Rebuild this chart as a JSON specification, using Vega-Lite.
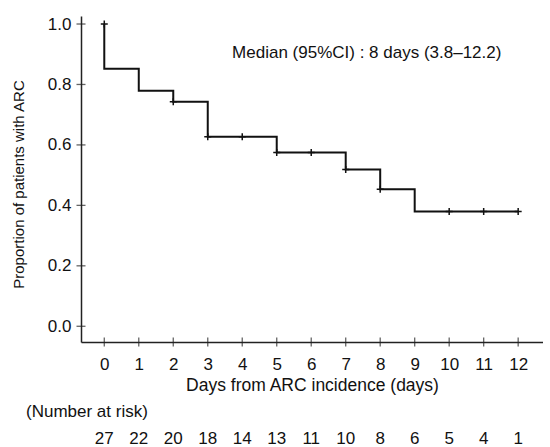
{
  "$schema": "https://vega.github.io/schema/vega-lite/v6.json",
  "autosize": {"type": "pad"},
  "padding": {"left": 11, "top": 15, "right": 0, "bottom": 0},
  "spacing": 9,
  "datasets": {
    "km": [
      {"day": 0, "surv": 1.0},
      {"day": 0, "surv": 0.852},
      {"day": 1, "surv": 0.779},
      {"day": 2, "surv": 0.743},
      {"day": 3, "surv": 0.627},
      {"day": 5, "surv": 0.575},
      {"day": 7, "surv": 0.519},
      {"day": 8, "surv": 0.453},
      {"day": 9, "surv": 0.38},
      {"day": 12, "surv": 0.38}
    ],
    "censor": [
      {"day": 0, "surv": 1.0},
      {"day": 2, "surv": 0.743},
      {"day": 3, "surv": 0.627},
      {"day": 4, "surv": 0.627},
      {"day": 5, "surv": 0.575},
      {"day": 6, "surv": 0.575},
      {"day": 7, "surv": 0.519},
      {"day": 8, "surv": 0.453},
      {"day": 10, "surv": 0.38},
      {"day": 11, "surv": 0.38},
      {"day": 12, "surv": 0.38}
    ],
    "xticks": [
      {"t": 0}, {"t": 1}, {"t": 2}, {"t": 3}, {"t": 4}, {"t": 5}, {"t": 6},
      {"t": 7}, {"t": 8}, {"t": 9}, {"t": 10}, {"t": 11}, {"t": 12}
    ],
    "yticks": [
      {"t": 0}, {"t": 0.2}, {"t": 0.4}, {"t": 0.6}, {"t": 0.8}, {"t": 1.0}
    ],
    "risk": [
      {"day": 0, "n": 27}, {"day": 1, "n": 22}, {"day": 2, "n": 20},
      {"day": 3, "n": 18}, {"day": 4, "n": 14}, {"day": 5, "n": 13},
      {"day": 6, "n": 11}, {"day": 7, "n": 10}, {"day": 8, "n": 8},
      {"day": 9, "n": 6}, {"day": 10, "n": 5}, {"day": 11, "n": 4},
      {"day": 12, "n": 1}
    ]
  },
  "vconcat": [
    {
      "width": 462,
      "height": 326,
      "layer": [
        {
          "data": {"name": "km"},
          "mark": {"type": "line", "interpolate": "step-after", "color": "#111", "strokeWidth": 2},
          "encoding": {
            "x": {
              "field": "day", "type": "quantitative",
              "scale": {"domain": [-0.675, 12.72], "nice": false, "zero": false},
              "axis": {
                "values": [0, 1, 2, 3, 4, 5, 6, 7, 8, 9, 10, 11, 12],
                "tickCount": 13,
                "format": "d",
                "title": "Days from ARC incidence (days)",
                "ticks": false, "tickSize": 0, "grid": false,
                "labelOverlap": false,
                "labelSeparation": 0,
                "labelBound": false,
                "labelFlush": false,
                "labelPadding": 14, "titlePadding": 4,
                "titleFontSize": 17.5
              }
            },
            "y": {
              "field": "surv", "type": "quantitative",
              "scale": {"domain": [-0.052, 1.0265], "nice": false, "zero": false},
              "axis": {
                "values": [0, 0.2, 0.4, 0.6, 0.8, 1.0],
                "format": ".1f",
                "title": "Proportion of patients with ARC",
                "ticks": false, "tickSize": 0, "grid": false,
                "labelOverlap": false,
                "labelPadding": 10,
                "titleFontSize": 15,
                "titleBaseline": "alphabetic",
                "titleX": -58,
                "titleY": 168
              }
            }
          }
        },
        {
          "data": {"name": "censor"},
          "mark": {"type": "point", "shape": "M-1,0L1,0M0,-1L0,1", "filled": false, "size": 49, "color": "#111", "strokeWidth": 1.5, "opacity": 1},
          "encoding": {
            "x": {"field": "day", "type": "quantitative"},
            "y": {"field": "surv", "type": "quantitative"}
          }
        },
        {
          "data": {"name": "xticks"},
          "mark": {"type": "tick", "orient": "vertical", "size": 9, "thickness": 1.3, "color": "#222"},
          "encoding": {
            "x": {"field": "t", "type": "quantitative"},
            "y": {"datum": -0.052, "type": "quantitative"}
          }
        },
        {
          "data": {"name": "yticks"},
          "mark": {"type": "tick", "orient": "horizontal", "size": 9, "thickness": 1.3, "color": "#222"},
          "encoding": {
            "x": {"datum": -0.675, "type": "quantitative"},
            "y": {"field": "t", "type": "quantitative"}
          }
        },
        {
          "data": {"values": [{"label": "Median (95%CI) : 8 days (3.8\u201312.2)"}]},
          "mark": {"type": "text", "align": "center", "baseline": "alphabetic", "fontSize": 17, "color": "#111"},
          "encoding": {
            "x": {"datum": 7.61, "type": "quantitative"},
            "y": {"datum": 0.889, "type": "quantitative"},
            "text": {"field": "label"}
          }
        }
      ]
    },
    {
      "width": 462,
      "height": 30,
      "title": {"text": "(Number at risk)", "anchor": "start", "dx": -55, "fontSize": 17, "fontWeight": "normal", "color": "#111", "offset": 3},
      "data": {"name": "risk"},
      "mark": {"type": "text", "fontSize": 17, "baseline": "middle", "color": "#111"},
      "encoding": {
        "x": {
          "field": "day", "type": "quantitative",
          "scale": {"domain": [-0.675, 12.72], "nice": false, "zero": false},
          "axis": null
        },
        "text": {"field": "n", "type": "quantitative"}
      }
    }
  ],
  "config": {
    "font": "Liberation Sans",
    "view": {"stroke": null},
    "axis": {
      "domainColor": "#222",
      "domainWidth": 1.5,
      "labelFontSize": 17,
      "labelColor": "#111",
      "titleFontSize": 17,
      "titleFontWeight": "normal",
      "titleColor": "#111"
    }
  }
}
